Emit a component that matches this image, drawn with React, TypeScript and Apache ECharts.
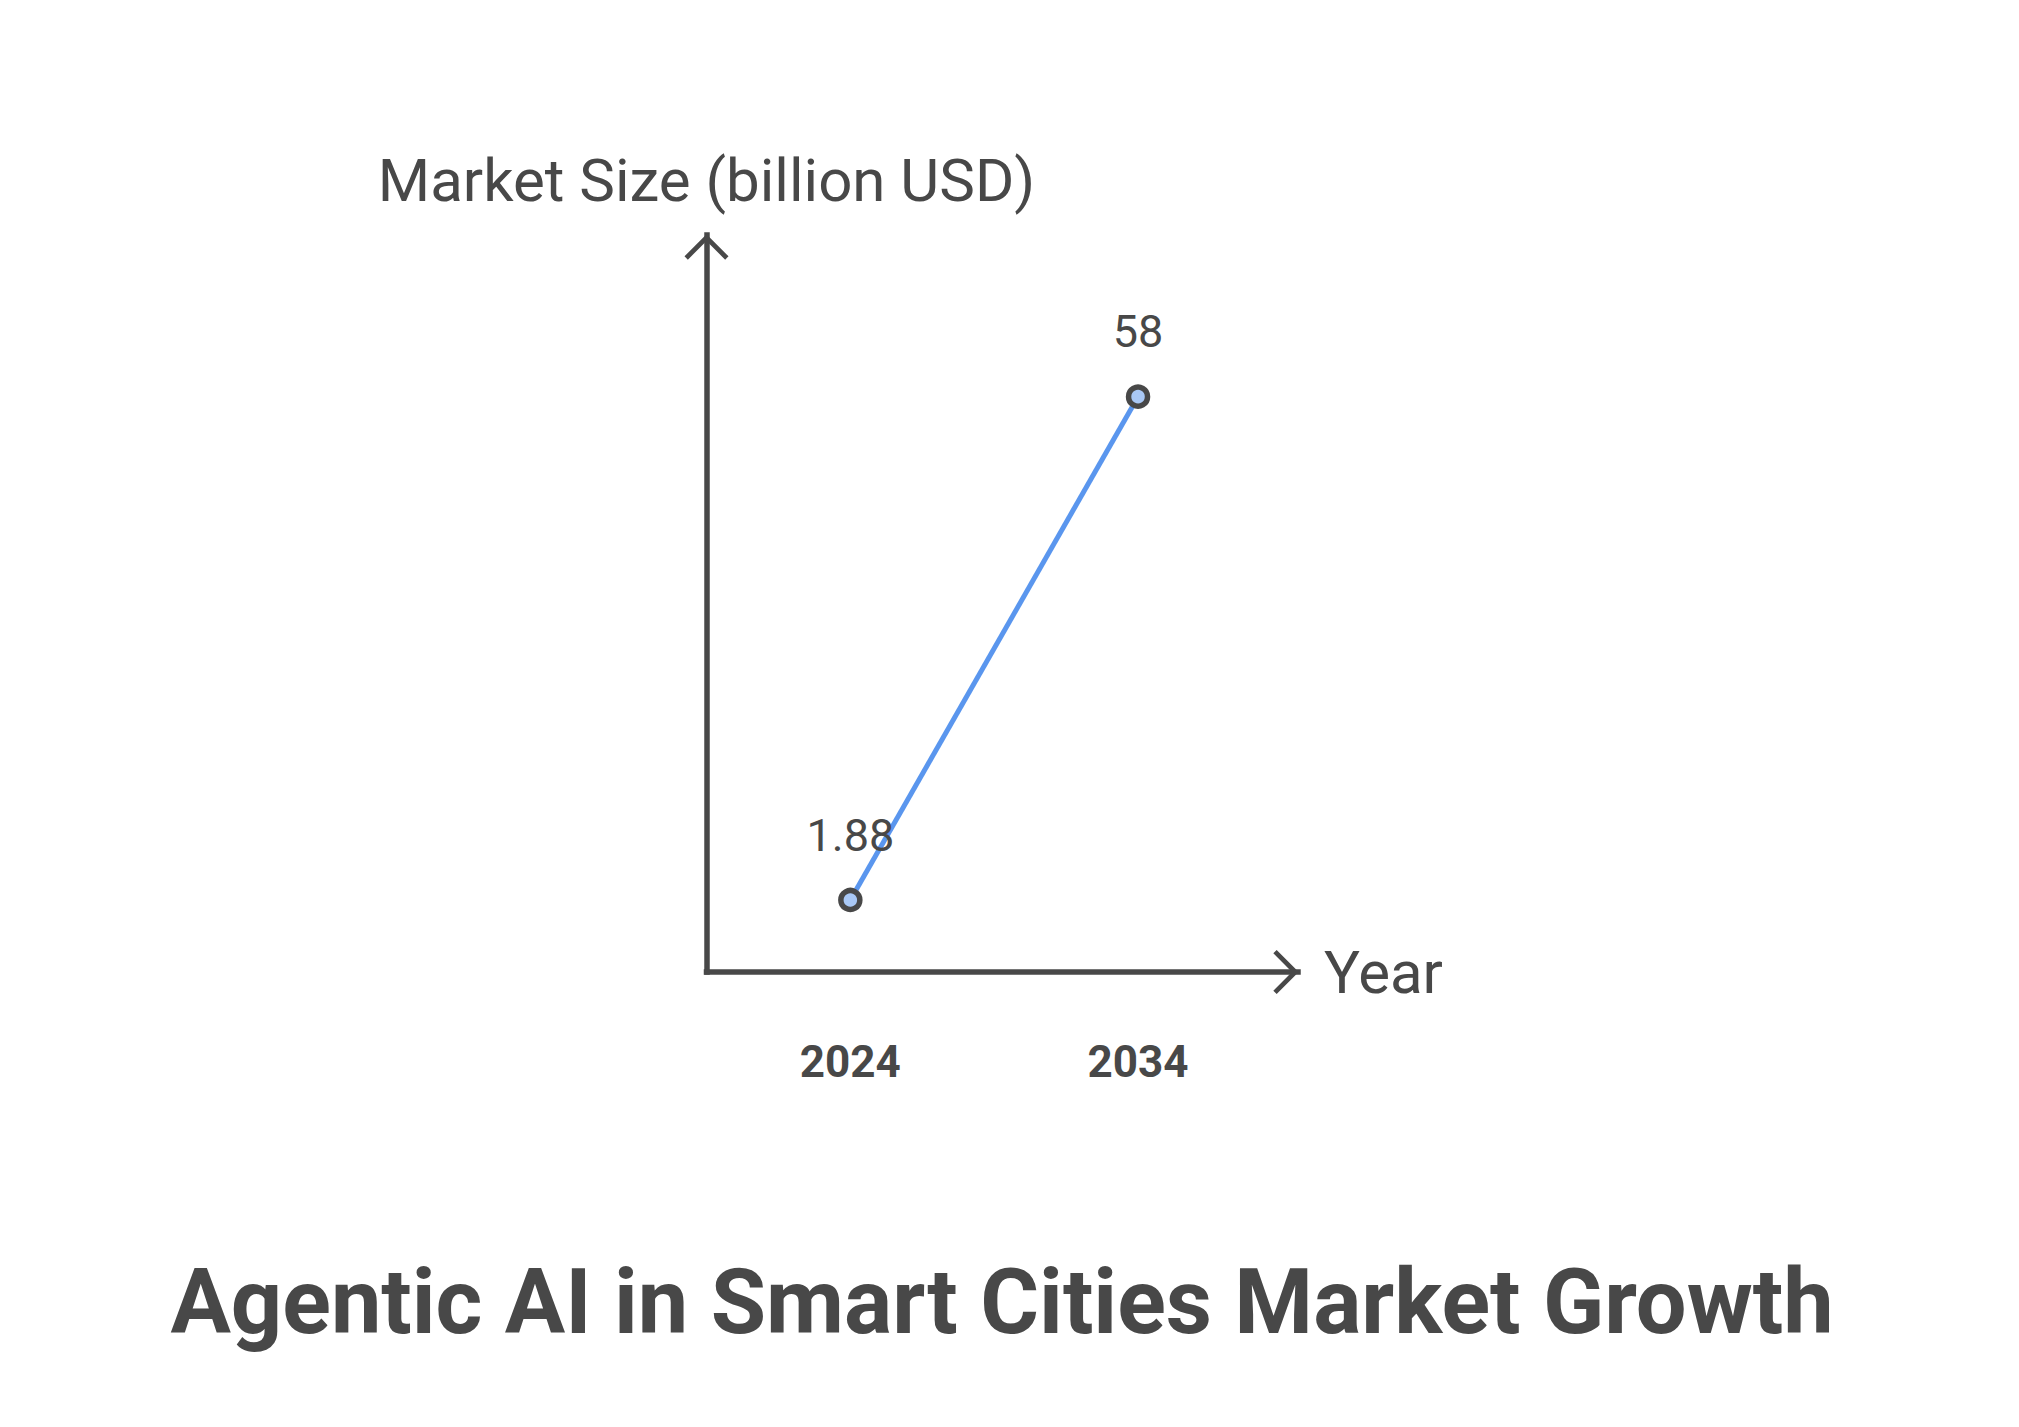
import React, { useEffect, useRef } from "react";
import * as echarts from "echarts";

const years = [2024, 2034];
const marketSize = [1.88, 58];
const yearTicks = [2024, 2034];
const chartTitle = "Agentic AI in Smart Cities Market Growth";
const yAxisTitle = "Market Size (billion USD)";
const xAxisTitle = "Year";

const TEXT = "#484848";
const LINE_BLUE = "#5a96ee";
const DOT_FILL = "#a9c8f5";
const FONT = "Roboto, 'Noto Sans', sans-serif";

const chevron = "path://M23,0 L46,23 L42.5,26.5 L23,7 L3.5,26.5 L0,23 Z";

export default function App() {
  const ref = useRef<HTMLDivElement>(null);

  useEffect(() => {
    if (!ref.current) return;
    const chart = echarts.init(ref.current, undefined, { renderer: "svg" });
    const seriesData = years.map((y, i) => [y, marketSize[i]]);
    chart.setOption({
      animation: false,
      backgroundColor: "#ffffff",
      grid: {
        left: 706.5,
        right: 2019 - 1298,
        top: 235,
        bottom: 1427 - 972,
        containLabel: false,
        outerBoundsMode: "none",
      },
      xAxis: {
        type: "value",
        min: 2019,
        max: 2039.56,
        name: xAxisTitle,
        nameLocation: "end",
        nameGap: 26,
        nameTextStyle: { fontSize: 60, color: TEXT, fontFamily: FONT },
        axisLine: {
          show: true,
          onZero: false,
          lineStyle: { color: TEXT, width: 5.5, cap: "square" },
          symbol: ["none", chevron],
          symbolSize: [44, 27],
          symbolOffset: [0, -12],
        },
        axisTick: { show: false },
        splitLine: { show: false },
        axisLabel: {
          show: true,
          customValues: yearTicks,
          formatter: (v: number) => String(v),
          fontSize: 44,
          fontWeight: "bold",
          color: TEXT,
          fontFamily: FONT,
          margin: 68,
        },
      },
      yAxis: {
        type: "value",
        min: -6.15,
        max: 76.03,
        name: yAxisTitle,
        nameLocation: "end",
        nameGap: 25,
        nameTextStyle: { fontSize: 60, color: TEXT, fontFamily: FONT },
        axisLine: {
          show: true,
          onZero: false,
          lineStyle: { color: TEXT, width: 5.5, cap: "square" },
          symbol: ["none", chevron],
          symbolSize: [44, 27],
          symbolOffset: [0, -12],
        },
        axisTick: { show: false },
        splitLine: { show: false },
        axisLabel: { show: false },
      },
      graphic: [
        {
          type: "text",
          x: 1002,
          y: 1302,
          style: {
            text: chartTitle,
            fontSize: 90,
            fontWeight: "bold",
            fontFamily: FONT,
            fill: TEXT,
            align: "center",
            verticalAlign: "middle",
          },
        },
      ],
      series: [
        {
          type: "line",
          data: seriesData,
          symbol: "circle",
          symbolSize: 19,
          showSymbol: true,
          itemStyle: { color: DOT_FILL, borderColor: TEXT, borderWidth: 5.5 },
          lineStyle: { color: LINE_BLUE, width: 5 },
          label: {
            show: true,
            position: "top",
            distance: 30,
            fontSize: 45,
            color: TEXT,
            fontFamily: FONT,
            formatter: (p: any) => String(p.value[1]),
          },
          z: 3,
        },
      ],
    });
    return () => chart.dispose();
  }, []);

  return (
    <div
      ref={ref}
      style={{ position: "absolute", left: 0, top: 0, width: 2019, height: 1427 }}
    />
  );
}
